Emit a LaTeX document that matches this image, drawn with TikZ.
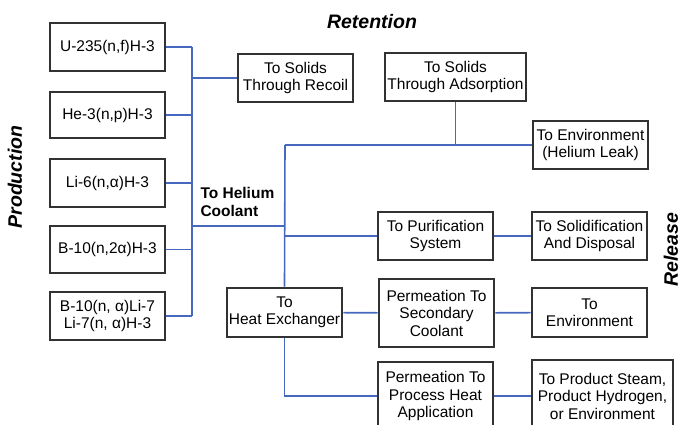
\documentclass[tikz,border=0pt]{standalone}
\usepackage{fontspec}
\setmainfont{Liberation Sans}
\definecolor{linkblue}{RGB}{70,104,190}
\definecolor{boxgray}{RGB}{50,50,50}

\begin{document}
\begin{tikzpicture}[x=1pt, y=-1pt,
    src/.style={draw=boxgray, line width=2.8pt, fill=white, inner sep=0pt,
                minimum width=115pt, minimum height=48pt, align=center,
                font=\fontsize{15.5}{17.5}\selectfont},
    link/.style={draw=linkblue, line width=1.6pt},
    head/.style={font=\fontsize{19.5}{22}\selectfont\bfseries\itshape}]
    \clip (0,0) rectangle (681,425);
    % production side
    \node[src, minimum height=48pt] (u235)   at (107.5,47)  {U-235(n,f)H-3};
    \node[src, minimum height=46pt] (he3)    at (107.5,115) {He-3(n,p)H-3};
    \node[src]                      (li6)    at (107.5,183) {Li-6(n,α)H-3};
    \node[src, minimum height=47pt] (b10)    at (107.5,249.5) {B-10(n,2α)H-3};
    \node[src]                      (b10li7) at (107.5,316) {B-10(n, α)Li-7\\Li-7(n, α)H-3};
    % retention and release
    \node[src]                   (recoil)   at (295.5,78)  {To Solids\\Through Recoil};
    \node[src, minimum width=141pt] (adsorp) at (455.5,77) {To Solids\\Through Adsorption};
    \node[src]                   (envleak)  at (590.5,145) {To Environment\\(Helium Leak)};
    \node[src]                   (purif)    at (435.5,236) {To Purification\\System};
    \node[src]                   (solidif)  at (589.5,236) {To Solidification\\And Disposal};
    \node[src, minimum height=49pt] (heatex) at (284.5,312.5) {To\\Heat Exchanger};
    \node[src, minimum height=68pt] (permsec) at (436.5,313) {Permeation To\\Secondary\\Coolant};
    \node[src, minimum height=49pt] (toenv)  at (589.5,312.5) {To\\Environment};
    \node[src, minimum height=68pt] (permproc) at (435.5,396) {Permeation To\\Process Heat\\Application};
    \node[src, minimum width=141pt, minimum height=72pt] (product) at (602.5,396)
        {To Product Steam,\\Product Hydrogen,\\or Environment};
    % labels
    \node[head] (retention) at (372,22) {Retention};
    \node[head, rotate=90] (production) at (15,177) {Production};
    \node[head, rotate=90] (release) at (671,250) {Release};
    \node[anchor=west, align=left, font=\fontsize{15.5}{18}\selectfont\bfseries]
        (coolant) at (197,202) {To Helium\\Coolant};
    % connectors
    \coordinate (hub) at (192,226);
    \coordinate (split) at (285,226);
    \coordinate (leak) at (285,145);
    \draw[link] (u235.east -| hub) -- (b10li7.east -| hub);
    \foreach \src in {u235,he3,li6,b10,b10li7}
        \draw[link] (\src.east) -- (\src.east -| hub);
    \draw[link] (recoil.west -| hub) -- (recoil.west);
    \draw[link] (hub) -- (split);
    \draw[link] (leak) -- (heatex.north);
    \draw[link] (leak) -- (envleak.west);
    \draw[link] (adsorp.south) -- (adsorp.south |- leak);
    \draw[link] (purif.west -| split) -- (purif.west);
    \draw[link] (purif) -- (solidif);
    \draw[link] (heatex) -- (permsec);
    \draw[link] (permsec) -- (toenv);
    \draw[link] (heatex.south) |- (permproc.west);
    \draw[link] (permproc) -- (product);
\end{tikzpicture}
\end{document}
